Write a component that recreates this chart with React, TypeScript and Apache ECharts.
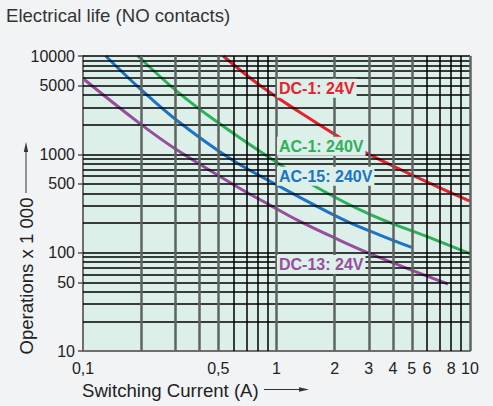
import React, { useEffect, useRef } from "react";
import * as echarts from "echarts";

// ---- data ----
const xTickLabels = [0.1, 0.5, 1, 2, 3, 4, 5, 6, 8, 10];
const yTickLabels = [10, 50, 100, 500, 1000, 5000, 10000];
const xMajorGrid = [0.2, 0.3, 0.4, 0.5, 1, 2, 3, 4, 5, 10];
const xMinorGrid = [0.6, 0.7, 0.8, 0.9, 6, 7, 8, 9];
const yGrid = [
  20, 30, 40, 50, 60, 70, 80, 90,
  100, 200, 300, 400, 500, 600, 700, 800, 900,
  1000, 2000, 3000, 4000, 5000, 6000, 7000, 8000, 9000, 10000,
];

const dc1_24V = [
  [0.53, 10000], [0.82, 5035], [1.32, 2675], [2.2, 1420], [2.97, 1010], [7, 456], [10, 335],
];
const ac1_240V = [
  [0.192, 10000], [0.306, 4375], [0.48, 2220], [0.93, 910], [1.62, 460], [3.04, 245], [6.2, 142], [10, 98],
];
const ac15_240V = [
  [0.131, 10000], [0.197, 4660], [0.305, 2220], [0.575, 905], [0.93, 530], [2.2, 218], [3.4, 152], [5, 113],
];
const dc13_24V = [
  [0.1, 5900], [0.197, 2050], [0.305, 1111], [0.648, 450], [0.93, 303], [1.29, 213], [2.05, 138], [3.04, 98], [7.7, 48],
];

const curveNames = ["DC-1: 24V", "AC-1: 240V", "AC-15: 240V", "DC-13: 24V"];
const curveColors = ["#e8212e", "#2fb15c", "#1b74c5", "#984d9e"];
const labelAnchors = [
  [1.0, 4690],
  [1.0, 1206],
  [1.0, 597],
  [1.0, 76],
];

const PLOT_BG = "#dcefe9";
const PAGE_BG = "#f1f3f5";
const FONT = "'Liberation Sans', Arial, sans-serif";
const NARROW = "'Liberation Sans Narrow', 'Arial Narrow', 'Liberation Sans', sans-serif";

export default function App() {
  const ref = useRef<HTMLDivElement>(null);

  useEffect(() => {
    document.body.style.margin = "0";
    document.body.style.background = PAGE_BG;
    const chart = echarts.init(ref.current!, null, { renderer: "svg" });

    const curves = [dc1_24V, ac1_240V, ac15_240V, dc13_24V];

    const gridLines: any[] = [
      ...yGrid.map((v) => ({ yAxis: v, lineStyle: { color: "#000", width: 1.5, type: "solid" } })),
      ...xMinorGrid.map((v) => ({ xAxis: v, lineStyle: { color: "#000", width: 1.5, type: "solid" } })),
      ...xMajorGrid.map((v) => ({ xAxis: v, lineStyle: { color: "#5e6462", width: 2.5, type: "solid" } })),
    ];

    const option: any = {
      animation: false,
      backgroundColor: PAGE_BG,
      grid: {
        left: 83,
        right: 23,
        top: 56,
        bottom: 55,
        show: true,
        backgroundColor: PLOT_BG,
        borderWidth: 0,
        outerBoundsMode: "none",
      },
      xAxis: {
        type: "log",
        logBase: 10,
        min: 0.1,
        max: 10,
        axisLine: { show: true, onZero: false, lineStyle: { color: "#6e6e6e", width: 2 } },
        axisTick: { show: false },
        splitLine: { show: false },
        minorSplitLine: { show: false },
        axisLabel: {
          customValues: xTickLabels,
          formatter: (v: number) => String(v).replace(".", ","),
          margin: 9,
          fontSize: 16,
          fontFamily: NARROW,
          color: "#222",
        },
      },
      yAxis: {
        type: "log",
        logBase: 10,
        min: 10,
        max: 10000,
        axisLine: { show: true, onZero: false, lineStyle: { color: "#6e6e6e", width: 2 } },
        axisTick: {
          show: true,
          customValues: yTickLabels,
          length: 5,
          lineStyle: { color: "#555", width: 1.5 },
        },
        splitLine: { show: false },
        axisLabel: {
          customValues: yTickLabels,
          formatter: (v: number) => String(v),
          margin: 8,
          fontSize: 16,
          fontFamily: NARROW,
          color: "#222",
        },
      },
      graphic: [
        {
          type: "text",
          x: 6,
          y: 15,
          style: {
            text: "Electrical life (NO contacts)",
            fontSize: 18.6,
            fontFamily: FONT,
            fill: "#333",
            align: "left",
            verticalAlign: "middle",
          },
        },
        {
          type: "text",
          x: 82,
          y: 390,
          style: {
            text: "Switching Current (A)",
            fontSize: 18.6,
            fontFamily: FONT,
            fill: "#222",
            align: "left",
            verticalAlign: "middle",
          },
        },
        {
          type: "line",
          shape: { x1: 264, y1: 389.5, x2: 301, y2: 389.5 },
          style: { stroke: "#333", lineWidth: 1 },
        },
        {
          type: "polygon",
          shape: { points: [[309, 389.5], [299, 387.3], [299, 391.7]] },
          style: { fill: "#333" },
        },
        {
          type: "text",
          x: 26,
          y: 276,
          rotation: Math.PI / 2,
          style: {
            text: "Operations x 1 000",
            fontSize: 18.6,
            fontFamily: FONT,
            fill: "#222",
            align: "center",
            verticalAlign: "middle",
          },
        },
        {
          type: "line",
          shape: { x1: 26, y1: 193, x2: 26, y2: 150 },
          style: { stroke: "#333", lineWidth: 1 },
        },
        {
          type: "polygon",
          shape: { points: [[26, 142], [23.8, 152], [28.2, 152]] },
          style: { fill: "#333" },
        },
      ],
      series: [
        {
          type: "line",
          name: "grid",
          data: [[0.1, 10]],
          symbol: "none",
          lineStyle: { opacity: 0 },
          silent: true,
          z: 1,
          markLine: {
            silent: true,
            symbol: ["none", "none"],
            label: { show: false },
            emphasis: { disabled: true },
            animation: false,
            data: gridLines,
          },
        },
        ...curves.map((d, i) => ({
          type: "line",
          name: curveNames[i],
          data: d,
          smooth: 0.4,
          symbol: "none",
          z: 3,
          lineStyle: { color: curveColors[i], width: 3 },
          silent: true,
        })),
        ...labelAnchors.map((p, i) => ({
          type: "scatter",
          name: curveNames[i] + " label",
          data: [p],
          symbolSize: 1,
          itemStyle: { color: "rgba(0,0,0,0)" },
          z: 6,
          silent: true,
          label: {
            show: true,
            position: "right",
            distance: 0,
            formatter: curveNames[i],
            color: curveColors[i],
            opacity: 1,
            fontSize: 16,
            fontWeight: "bold",
            fontFamily: FONT,
            backgroundColor: PLOT_BG,
            padding: [2, 2, 1, 2],
          },
        })),
      ],
    };

    chart.setOption(option);
    return () => chart.dispose();
  }, []);

  return (
    <div
      ref={ref}
      style={{ position: "fixed", left: 0, top: 0, width: 493, height: 406, background: PAGE_BG }}
    />
  );
}
